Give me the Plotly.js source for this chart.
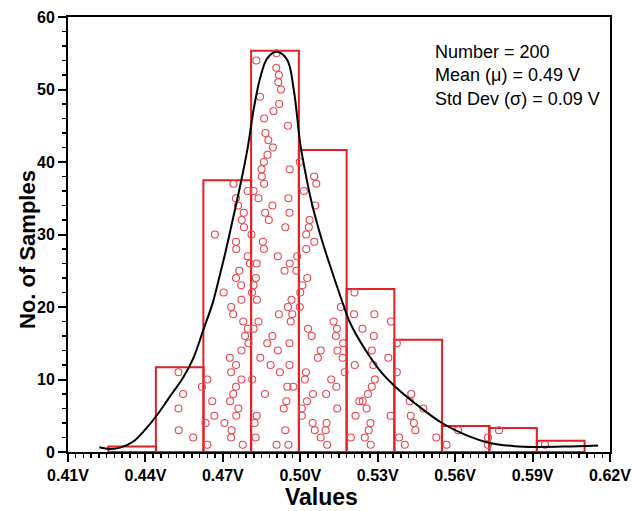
<!DOCTYPE html>
<html>
<head>
<meta charset="utf-8">
<script src="https://cdn.plot.ly/plotly-3.0.1.min.js"></script>
<style>html,body{margin:0;padding:0;background:#fff;}#chart{width:632px;height:511px;}</style>
</head>
<body>
<div id="chart"></div>
<script>
// Histogram bins (bin centres, counts)
const binCenters = [0.4349, 0.4533, 0.4717, 0.4902, 0.5087, 0.5272, 0.5457, 0.5641, 0.5824, 0.6009];
const binCounts  = [0.77, 11.7, 37.5, 55.35, 41.67, 22.5, 15.5, 3.58, 3.3, 1.56];
const binWidth = 0.0185;

// Individual samples (value, stacking index)
const sampleX = [
 0.4528,0.4546,0.4528,0.4529,0.4585,0.4619,
 0.4741,0.4796,0.4751,0.4759,0.4781,0.4773,0.4782,0.4669,0.4811,0.4751,0.4752,0.4796,0.4805,0.4764,0.4751,0.4771,0.4703,0.4772,0.4732,0.4740,0.4779,0.4797,0.4786,0.4799,0.4772,0.4727,0.4751,0.4732,0.4640,0.4772,0.4751,0.4740,0.4659,0.4728,0.4760,0.4667,0.4752,0.4633,0.4706,0.4734,0.4732,0.4640,0.4777,
 0.4908,0.4830,0.4907,0.4917,0.4915,0.4925,0.4844,0.4918,0.4896,0.4860,0.4952,0.4865,0.4876,0.4894,0.4873,0.4859,0.4850,0.4959,0.4851,0.4860,0.4819,0.4838,0.4954,0.4892,0.4864,0.4958,0.4878,0.4942,0.4855,
 0.4859,0.4913,0.4831,0.4959,0.4988,0.4939,0.4985,0.4828,0.4819,0.4813,0.4832,0.4966,0.4952,0.4969,0.4917,0.4963,0.4838,0.4819,0.4892,0.4872,0.4958,0.4913,0.4845,0.4885,0.4958,0.4921,0.4814,0.4950,0.4973,0.4863,0.4946,0.4936,0.4831,0.4823,0.4942,0.4827,0.4908,0.4954,
 0.4998,0.5054,0.5062,0.5014,0.5058,0.5036,0.5033,0.5023,0.5054,0.5023,0.5027,0.5008,0.5000,0.4998,0.5157,0.5030,0.5129,0.5142,0.5044,0.5138,0.5166,0.5079,0.5144,0.5068,0.5164,0.5172,0.5022,0.5018,0.5120,0.5140,0.5049,0.5100,0.5026,0.5143,0.5006,0.5006,0.5048,0.5102,0.5056,0.5098,0.5079,0.5104,
 0.5210,0.5208,0.5287,0.5351,0.5241,0.5285,0.5277,0.5341,0.5211,0.5283,0.5289,0.5277,0.5262,0.5229,0.5242,0.5257,0.5214,0.5350,0.5272,0.5265,0.5196,0.5250,0.5273,
 0.5374,0.5374,0.5430,0.5424,0.5477,0.5428,0.5440,0.5446,0.5383,0.5527,0.5405,
 0.5567,0.5612,0.5727,0.5727,0.5770,0.5948
];
const sampleY = [
 11,8,6,3,2,9,
 37,36,35,34,33,32,31,30,30,29,28,27,26,25,24,23,22,21,20,19,18,17,16,15,14,13,12,11,10,10,9,8,7,7,6,5,5,4,4,3,2,1,1,
 55,54,53,52,51,50,49,48,47,46,45,44,43,42,41,40,39,39,38,37,36,35,35,34,33,33,32,31,29,
 28,27,26,26,27,25,25,24,23,22,21,21,20,19,19,18,18,17,16,15,15,14,13,12,12,11,10,9,9,8,7,6,5,4,3,2,1,1,
 40,38,37,36,34,32,31,30,29,28,24,23,22,20,20,17,18,17,16,16,15,14,14,13,13,11,11,10,10,9,8,8,7,6,6,5,4,4,3,3,2,1,
 22,19,19,18,17,16,14,13,12,12,10,9,8,7,7,6,5,5,4,3,2,2,1,
 15,11,8,7,6,5,4,3,2,2,1,
 1,3,2,1,3,1
];

// Fitted distribution curve
const fitX = [0.4221,0.4263,0.4302,0.4353,0.4404,0.4443,0.4494,0.4545,0.4584,0.4624,0.4661,0.4687,0.4713,0.4738,0.4764,0.4795,0.4821,0.4846,0.4872,0.4908,0.4949,0.4975,0.5000,0.5021,0.5044,0.5083,0.5121,0.5160,0.5192,0.5252,0.5316,0.5368,0.5445,0.5549,0.5638,0.5734,0.5830,0.5920,0.6023,0.6154];
const fitY = [0.65,0.42,0.6,1.45,3.3,5.0,7.6,10.2,12.8,16.8,20.6,24.2,28.0,32.0,36.2,41.7,47.6,51.8,54.3,55.2,54.1,49.9,42.5,38.3,34.4,29.3,25.1,21.0,17.9,14.1,10.9,9.0,6.7,4.0,2.4,1.25,0.8,0.7,0.75,0.9];

const xTickVals = [0.41,0.44,0.47,0.50,0.53,0.56,0.59,0.62];
const xTickText = ['0.41V','0.44V','0.47V','0.50V','0.53V','0.56V','0.59V','0.62V'];
const statLines = ['Number = 200','Mean (\u03bc) = 0.49 V','Std Dev (\u03c3) = 0.09 V'];

const red = 'rgb(226,30,38)';
const traces = [
  {type:'bar', x:binCenters, y:binCounts, width:binWidth,
   marker:{color:'rgba(0,0,0,0)', line:{color:red, width:2}}, hoverinfo:'skip'},
  {type:'scatter', mode:'markers', x:sampleX, y:sampleY,
   marker:{symbol:'circle-open', size:7, color:'rgb(232,70,80)', line:{width:1.1}}},
  {type:'scatter', mode:'lines', x:fitX, y:fitY,
   line:{color:'#000', width:2, shape:'spline', smoothing:1}}
];

const axisFont = {family:'Liberation Sans, Arial, sans-serif', size:16, color:'#000', weight:'bold'};
const layout = {
  width:632, height:511,
  margin:{l:68, r:22, t:17, b:59},
  paper_bgcolor:'#fff', plot_bgcolor:'#fff',
  showlegend:false, bargap:0,
  xaxis:{range:[0.41,0.62], tickmode:'array', tickvals:xTickVals, ticktext:xTickText,
    ticks:'outside', ticklen:8, tickwidth:2, tickcolor:'#000', ticklabeloverflow:'allow',
    showline:true, linecolor:'#000', linewidth:2, mirror:true,
    showgrid:false, zeroline:false, tickfont:axisFont,
    minor:{tick0:0.41, dtick:0.003, ticks:'outside', ticklen:4, tickwidth:1.5, tickcolor:'#000', showgrid:false}},
  yaxis:{range:[0,60], tick0:0, dtick:10,
    ticks:'outside', ticklen:8, tickwidth:2, tickcolor:'#000',
    showline:true, linecolor:'#000', linewidth:2, mirror:true,
    showgrid:false, zeroline:false, tickfont:axisFont,
    minor:{tick0:0, dtick:2, ticks:'outside', ticklen:4, tickwidth:1.5, tickcolor:'#000', showgrid:false}},
  annotations:[
    {xref:'paper', yref:'paper', x:(433-68)/542, y:(452-40)/435, xanchor:'left', yanchor:'top',
     align:'left', showarrow:false, text:statLines.join('<br>'),
     font:{family:'Liberation Sans, Arial, sans-serif', size:18, color:'#000'}},
    {xref:'paper', yref:'paper', x:(321-68)/542, y:(452-497)/435, xanchor:'center', yanchor:'middle',
     showarrow:false, text:'<b>Values</b>', font:{family:'Liberation Sans, Arial, sans-serif', size:23, color:'#000'}},
    {xref:'paper', yref:'paper', x:(27-68)/542, y:(452-250)/435, xanchor:'center', yanchor:'middle',
     showarrow:false, textangle:-90, text:'<b>No. of Samples</b>', font:{family:'Liberation Sans, Arial, sans-serif', size:22, color:'#000'}}
  ]
};
Plotly.newPlot('chart', traces, layout, {displayModeBar:false, staticPlot:true});
</script>
</body>
</html>
